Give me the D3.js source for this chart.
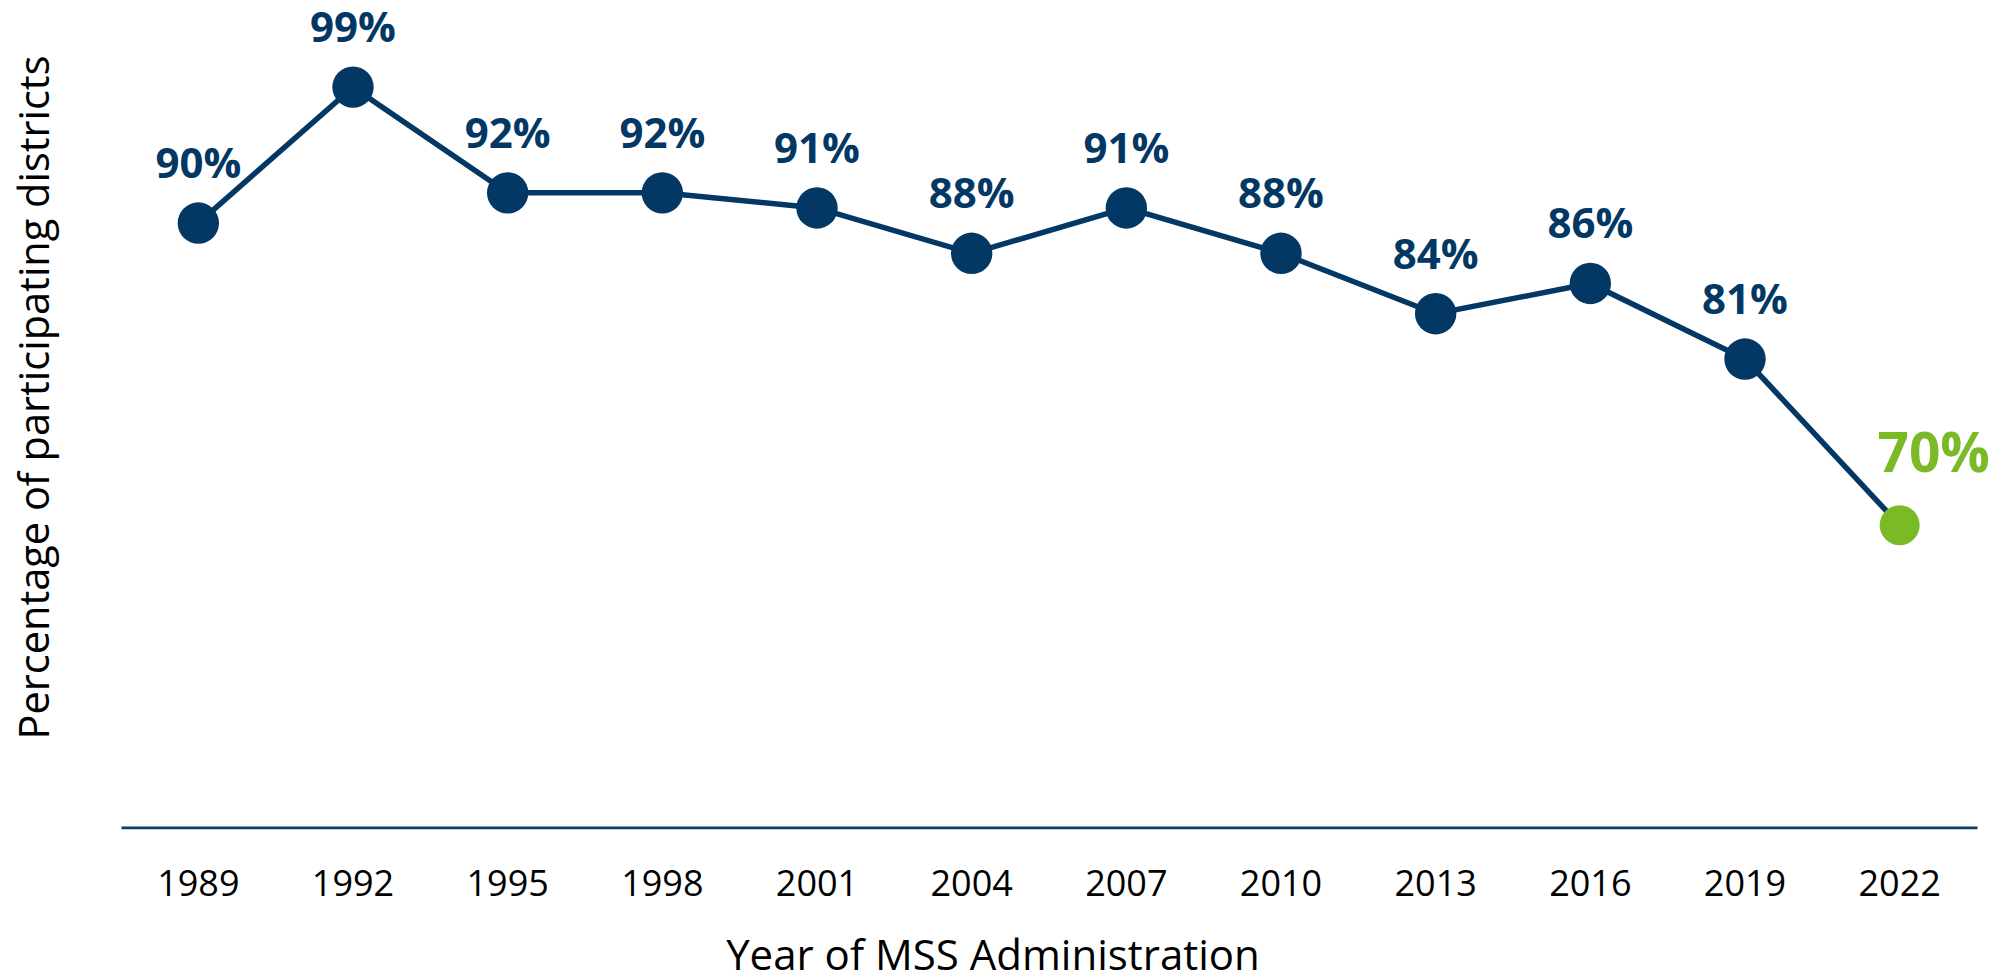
<!DOCTYPE html>
<html>
<head>
<meta charset="utf-8">
<script src="https://cdn.jsdelivr.net/npm/d3@7"></script>
<style>
  html, body { margin: 0; padding: 0; background: #ffffff; }
  svg { display: block; }
  text { font-family: "Open Sans", "Noto Sans", sans-serif; }
</style>
</head>
<body>
<svg id="chart" width="2005" height="977"></svg>
<script>
// ---- data ----
const years = ["1989","1992","1995","1998","2001","2004","2007","2010","2013","2016","2019","2022"];
const participation = [90, 99, 92, 92, 91, 88, 91, 88, 84, 86, 81, 70];
const highlightYear = "2022";
const yDomain = [50, 100];
const xTitle = "Year of MSS Administration";
const yTitle = "Percentage of participating districts";

// ---- styles ----
const BLUE = "#043864";
const GREEN = "#7aba27";
const AXIS = "#0d3e6b";

const svg = d3.select("#chart");
const data = years.map((y, i) => ({ year: y, value: participation[i] }));

const x = d3.scaleBand().domain(years).range([121, 1977]).padding(0);
const y = d3.scaleLinear().domain(yDomain).range([827.3, 72]);
const cx = d => x(d.year) + x.bandwidth() / 2;

// x axis
const xAxis = svg.append("g")
  .attr("transform", "translate(0,827.3)")
  .call(d3.axisBottom(x).tickSize(0).tickSizeOuter(0));
xAxis.select(".domain").attr("stroke", AXIS).attr("stroke-width", 2.7);
xAxis.selectAll(".tick text")
  .attr("y", 69).attr("dy", 0)
  .attr("fill", "#000")
  .style("font-family", "'Open Sans', sans-serif")
  .style("font-size", "36px");

// line
svg.append("path")
  .datum(data)
  .attr("fill", "none")
  .attr("stroke", BLUE)
  .attr("stroke-width", 5.5)
  .attr("d", d3.line().x(cx).y(d => y(d.value)));

// points
svg.selectAll("circle.pt")
  .data(data)
  .join("circle")
  .attr("class", "pt")
  .attr("cx", cx)
  .attr("cy", d => y(d.value))
  .attr("r", d => d.year === highlightYear ? 20 : 20.7)
  .attr("fill", d => d.year === highlightYear ? GREEN : BLUE);

// labels
svg.selectAll("text.lbl")
  .data(data)
  .join("text")
  .attr("class", "lbl")
  .attr("text-anchor", "middle")
  .attr("x", d => cx(d) + (d.year === highlightYear ? 34 : 0))
  .attr("y", d => y(d.value) - (d.year === highlightYear ? 53 : 45))
  .attr("fill", d => d.year === highlightYear ? GREEN : BLUE)
  .style("font-weight", "bold")
  .style("font-size", d => d.year === highlightYear ? "55px" : "42px")
  .text(d => d.value + "%");

// axis titles
svg.append("text")
  .attr("x", 993).attr("y", 970)
  .attr("text-anchor", "middle")
  .attr("fill", "#000")
  .style("font-size", "42px")
  .text(xTitle);

svg.append("text")
  .attr("transform", "translate(49,397.5) rotate(-90)")
  .attr("text-anchor", "middle")
  .attr("fill", "#000")
  .style("font-size", "41.5px")
  .text(yTitle);
</script>
</body>
</html>
